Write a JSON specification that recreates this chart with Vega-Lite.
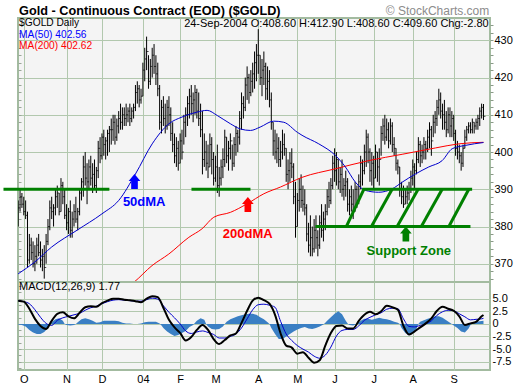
{
"$schema": "https://vega.github.io/schema/vega-lite/v6.json",
"background": "white",
"padding": {"left": 0, "top": 3, "right": 0, "bottom": 0},
"spacing": 0,
"bounds": "flush",
"config": {
  "font": "Liberation Sans",
  "view": {"fill": "#f4f4f4", "stroke": "#a3bba0", "strokeWidth": 2},
  "axis": {"gridColor": "#b2c8ae", "gridWidth": 1, "labelFont": "Liberation Sans", "labelFontSize": 11, "labelColor": "#000000", "domain": false, "tickColor": "#8a9a88", "title": null, "labelOverlap": false}
},
"datasets": {
  "bars": [
{"t":0,"h":387,"l":380,"c":385},{"t":1,"h":390,"l":384,"c":388},{"t":2,"h":389,"l":385,"c":386},{"t":3,"h":388,"l":383,"c":384},{"t":4,"h":387,"l":382,"c":383},
{"t":5,"h":384,"l":369,"c":371},{"t":6,"h":378,"l":370,"c":375},{"t":7,"h":377,"l":371,"c":373},{"t":8,"h":376,"l":369,"c":370},{"t":9,"h":375,"l":368,"c":372},
{"t":10,"h":377,"l":370,"c":375},{"t":11,"h":378,"l":372,"c":373},{"t":12,"h":376,"l":369,"c":371},{"t":13,"h":374,"l":368,"c":372},{"t":14,"h":375,"l":366,"c":369},
{"t":15,"h":378,"l":370,"c":376},{"t":16,"h":382,"l":375,"c":380},{"t":17,"h":387,"l":379,"c":385},{"t":18,"h":388,"l":382,"c":384},{"t":19,"h":386,"l":380,"c":385},
{"t":20,"h":390,"l":383,"c":388},{"t":21,"h":391,"l":385,"c":389},{"t":22,"h":389,"l":383,"c":384},{"t":23,"h":393,"l":384,"c":391},{"t":24,"h":392,"l":386,"c":388},
{"t":25,"h":390,"l":382,"c":383},{"t":26,"h":386,"l":379,"c":381},{"t":27,"h":385,"l":378,"c":384},{"t":28,"h":387,"l":377,"c":379},{"t":29,"h":384,"l":377,"c":382},
{"t":30,"h":386,"l":380,"c":384},{"t":31,"h":388,"l":381,"c":382},{"t":32,"h":385,"l":379,"c":384},{"t":33,"h":390,"l":383,"c":389},{"t":34,"h":393,"l":387,"c":392},
{"t":35,"h":399,"l":388,"c":396},{"t":36,"h":400,"l":391,"c":393},{"t":37,"h":397,"l":386,"c":392},{"t":38,"h":398,"l":390,"c":396},{"t":39,"h":399,"l":391,"c":393},
{"t":40,"h":397,"l":389,"c":394},{"t":41,"h":398,"l":390,"c":391},{"t":42,"h":396,"l":389,"c":395},{"t":43,"h":403,"l":393,"c":401},{"t":44,"h":404,"l":397,"c":399},
{"t":45,"h":405,"l":398,"c":404},{"t":46,"h":406,"l":399,"c":402},{"t":47,"h":404,"l":398,"c":403},{"t":48,"h":406,"l":399,"c":405},{"t":49,"h":407,"l":400,"c":406},
{"t":50,"h":409,"l":402,"c":406},{"t":51,"h":410,"l":403,"c":408},{"t":52,"h":410,"l":402,"c":404},{"t":53,"h":409,"l":403,"c":407},{"t":54,"h":411,"l":405,"c":409},
{"t":55,"h":413,"l":406,"c":408},{"t":56,"h":412,"l":406,"c":410},{"t":57,"h":412,"l":407,"c":409},{"t":58,"h":413,"l":407,"c":410},{"t":59,"h":412,"l":408,"c":411},
{"t":60,"h":413,"l":407,"c":409},{"t":61,"h":412,"l":408,"c":411},{"t":62,"h":413,"l":409,"c":412},{"t":63,"h":418,"l":411,"c":416},{"t":64,"h":419,"l":413,"c":417},
{"t":65,"h":418,"l":412,"c":414},{"t":66,"h":417,"l":413,"c":415},{"t":67,"h":424,"l":415,"c":422},{"t":68,"h":428,"l":419,"c":425},{"t":69,"h":431,"l":422,"c":427},
{"t":70,"h":426,"l":417,"c":419},{"t":71,"h":425,"l":418,"c":423},{"t":72,"h":428,"l":420,"c":426},{"t":73,"h":429,"l":421,"c":423},{"t":74,"h":426,"l":418,"c":421},
{"t":75,"h":424,"l":415,"c":417},{"t":76,"h":418,"l":406,"c":408},{"t":77,"h":414,"l":405,"c":412},{"t":78,"h":415,"l":407,"c":409},{"t":79,"h":413,"l":405,"c":407},
{"t":80,"h":414,"l":406,"c":412},{"t":81,"h":415,"l":407,"c":410},{"t":82,"h":412,"l":403,"c":405},{"t":83,"h":408,"l":400,"c":402},{"t":84,"h":405,"l":397,"c":399},
{"t":85,"h":404,"l":396,"c":401},{"t":86,"h":403,"l":395,"c":397},{"t":87,"h":405,"l":397,"c":403},{"t":88,"h":406,"l":398,"c":400},{"t":89,"h":410,"l":402,"c":408},
{"t":90,"h":412,"l":404,"c":410},{"t":91,"h":415,"l":407,"c":413},{"t":92,"h":417,"l":409,"c":415},{"t":93,"h":418,"l":410,"c":413},{"t":94,"h":416,"l":408,"c":414},
{"t":95,"h":418,"l":410,"c":416},{"t":96,"h":417,"l":409,"c":411},{"t":97,"h":416,"l":407,"c":409},{"t":98,"h":413,"l":404,"c":406},{"t":99,"h":411,"l":394,"c":398},
{"t":100,"h":405,"l":396,"c":400},{"t":101,"h":403,"l":395,"c":397},{"t":102,"h":402,"l":393,"c":396},{"t":103,"h":405,"l":396,"c":402},{"t":104,"h":404,"l":394,"c":398},
{"t":105,"h":400,"l":391,"c":393},{"t":106,"h":399,"l":392,"c":396},{"t":107,"h":402,"l":389,"c":391},{"t":108,"h":396,"l":388,"c":393},{"t":109,"h":398,"l":391,"c":396},
{"t":110,"h":401,"l":393,"c":398},{"t":111,"h":406,"l":396,"c":404},{"t":112,"h":404,"l":397,"c":399},{"t":113,"h":403,"l":395,"c":401},{"t":114,"h":405,"l":398,"c":403},
{"t":115,"h":402,"l":395,"c":397},{"t":116,"h":404,"l":396,"c":402},{"t":117,"h":407,"l":399,"c":405},{"t":118,"h":406,"l":400,"c":404},{"t":119,"h":411,"l":402,"c":409},
{"t":120,"h":416,"l":406,"c":413},{"t":121,"h":415,"l":409,"c":412},{"t":122,"h":420,"l":411,"c":418},{"t":123,"h":423,"l":414,"c":420},{"t":124,"h":421,"l":413,"c":416},
{"t":125,"h":422,"l":415,"c":419},{"t":126,"h":424,"l":416,"c":421},{"t":127,"h":427,"l":417,"c":424},{"t":128,"h":429,"l":419,"c":426},{"t":129,"h":433,"l":421,"c":426},
{"t":130,"h":426,"l":418,"c":420},{"t":131,"h":425,"l":415,"c":422},{"t":132,"h":427,"l":418,"c":423},{"t":133,"h":424,"l":414,"c":417},{"t":134,"h":423,"l":414,"c":419},
{"t":135,"h":422,"l":412,"c":414},{"t":136,"h":416,"l":406,"c":408},{"t":137,"h":408,"l":399,"c":403},{"t":138,"h":406,"l":398,"c":400},{"t":139,"h":405,"l":397,"c":401},
{"t":140,"h":404,"l":396,"c":398},{"t":141,"h":403,"l":396,"c":400},{"t":142,"h":406,"l":398,"c":402},{"t":143,"h":405,"l":399,"c":401},{"t":144,"h":401,"l":392,"c":394},
{"t":145,"h":398,"l":390,"c":395},{"t":146,"h":400,"l":392,"c":397},{"t":147,"h":401,"l":393,"c":396},{"t":148,"h":397,"l":386,"c":388},{"t":149,"h":392,"l":377,"c":380},
{"t":150,"h":389,"l":380,"c":387},{"t":151,"h":393,"l":384,"c":390},{"t":152,"h":394,"l":385,"c":387},{"t":153,"h":391,"l":384,"c":386},{"t":154,"h":390,"l":383,"c":385},
{"t":155,"h":386,"l":376,"c":378},{"t":156,"h":381,"l":373,"c":375},{"t":157,"h":383,"l":372,"c":377},{"t":158,"h":380,"l":372,"c":374},{"t":159,"h":382,"l":373,"c":379},
{"t":160,"h":383,"l":374,"c":377},{"t":161,"h":379,"l":372,"c":375},{"t":162,"h":383,"l":374,"c":381},{"t":163,"h":386,"l":377,"c":379},{"t":164,"h":384,"l":376,"c":382},
{"t":165,"h":386,"l":379,"c":384},{"t":166,"h":390,"l":383,"c":388},{"t":167,"h":392,"l":385,"c":387},{"t":168,"h":393,"l":386,"c":391},{"t":169,"h":399,"l":390,"c":397},
{"t":170,"h":401,"l":392,"c":395},{"t":171,"h":400,"l":391,"c":398},{"t":172,"h":398,"l":390,"c":392},{"t":173,"h":396,"l":389,"c":394},{"t":174,"h":398,"l":388,"c":390},
{"t":175,"h":393,"l":387,"c":391},{"t":176,"h":395,"l":388,"c":392},{"t":177,"h":393,"l":384,"c":386},{"t":178,"h":390,"l":383,"c":388},{"t":179,"h":391,"l":384,"c":386},
{"t":180,"h":390,"l":382,"c":384},{"t":181,"h":392,"l":384,"c":390},{"t":182,"h":391,"l":385,"c":387},{"t":183,"h":394,"l":386,"c":392},{"t":184,"h":399,"l":390,"c":397},
{"t":185,"h":398,"l":391,"c":395},{"t":186,"h":402,"l":394,"c":400},{"t":187,"h":406,"l":396,"c":404},{"t":188,"h":405,"l":397,"c":400},{"t":189,"h":401,"l":392,"c":395},
{"t":190,"h":400,"l":391,"c":397},{"t":191,"h":399,"l":390,"c":393},{"t":192,"h":402,"l":393,"c":400},{"t":193,"h":400,"l":392,"c":396},{"t":194,"h":401,"l":391,"c":398},
{"t":195,"h":407,"l":399,"c":405},{"t":196,"h":409,"l":403,"c":407},{"t":197,"h":410,"l":402,"c":404},{"t":198,"h":409,"l":403,"c":406},{"t":199,"h":408,"l":401,"c":403},
{"t":200,"h":409,"l":402,"c":407},{"t":201,"h":408,"l":400,"c":402},{"t":202,"h":404,"l":399,"c":401},{"t":203,"h":401,"l":395,"c":397},{"t":204,"h":398,"l":394,"c":396},
{"t":205,"h":396,"l":388,"c":390},{"t":206,"h":392,"l":386,"c":388},{"t":207,"h":391,"l":385,"c":386},{"t":208,"h":390,"l":386,"c":388},{"t":209,"h":391,"l":386,"c":389},
{"t":210,"h":392,"l":387,"c":390},{"t":211,"h":395,"l":389,"c":393},{"t":212,"h":398,"l":391,"c":396},{"t":213,"h":397,"l":390,"c":395},{"t":214,"h":400,"l":394,"c":398},
{"t":215,"h":404,"l":397,"c":402},{"t":216,"h":403,"l":396,"c":399},{"t":217,"h":402,"l":397,"c":400},{"t":218,"h":404,"l":398,"c":402},{"t":219,"h":403,"l":398,"c":401},
{"t":220,"h":406,"l":400,"c":404},{"t":221,"h":408,"l":401,"c":406},{"t":222,"h":407,"l":399,"c":403},{"t":223,"h":410,"l":404,"c":408},{"t":224,"h":411,"l":405,"c":409},
{"t":225,"h":414,"l":407,"c":412},{"t":226,"h":417,"l":410,"c":414},{"t":227,"h":416,"l":409,"c":411},{"t":228,"h":413,"l":406,"c":410},{"t":229,"h":414,"l":406,"c":408},
{"t":230,"h":411,"l":404,"c":406},{"t":231,"h":412,"l":405,"c":410},{"t":232,"h":412,"l":404,"c":407},{"t":233,"h":411,"l":404,"c":409},{"t":234,"h":410,"l":403,"c":405},
{"t":235,"h":406,"l":399,"c":401},{"t":236,"h":403,"l":398,"c":400},{"t":237,"h":402,"l":397,"c":399},{"t":238,"h":400,"l":395,"c":397},{"t":239,"h":402,"l":396,"c":401},
{"t":240,"h":406,"l":401,"c":404},{"t":241,"h":407,"l":403,"c":406},{"t":242,"h":408,"l":405,"c":407},{"t":243,"h":408,"l":405,"c":406},{"t":244,"h":409,"l":405,"c":408},
{"t":245,"h":408,"l":405,"c":407},{"t":246,"h":409,"l":406,"c":408},{"t":247,"h":410,"l":406,"c":409},{"t":248,"h":412,"l":407,"c":411},{"t":249,"h":413,"l":409,"c":412},
{"t":250,"h":412.9,"l":408.6,"c":409.6}
  ],
  "ma50": [
{"t":0,"v":367.3},{"t":9,"v":370.5},{"t":18,"v":374.5},{"t":31.6,"v":379},{"t":45,"v":383.4},{"t":54,"v":387},{"t":63,"v":394.1},{"t":72,"v":402.2},{"t":81,"v":407.6},{"t":88,"v":409.4},{"t":96,"v":410.7},{"t":101.5,"v":411.2},{"t":107,"v":409.8},{"t":114,"v":407.6},{"t":119.4,"v":406.2},{"t":124.8,"v":405.8},{"t":130,"v":406.7},{"t":137.3,"v":408.3},{"t":142.7,"v":408.0},{"t":150,"v":405.3},{"t":152.5,"v":404.5},{"t":161.5,"v":402.2},{"t":170.4,"v":399.1},{"t":175.8,"v":396},{"t":181.2,"v":391.9},{"t":186.5,"v":389.7},{"t":193.7,"v":389.2},{"t":200.9,"v":390.1},{"t":206.3,"v":391.9},{"t":213.4,"v":394.1},{"t":220.6,"v":396},{"t":227.8,"v":397.7},{"t":233.2,"v":400.9},{"t":240.4,"v":401.8},{"t":250,"v":402.56}
  ],
  "ma200": [
{"t":58,"v":363.5},{"t":62.1,"v":365},{"t":71.9,"v":369.5},{"t":80.9,"v":372.6},{"t":91.7,"v":377.1},{"t":98.8,"v":379.4},{"t":105.1,"v":382.5},{"t":114,"v":383.8},{"t":123,"v":386.1},{"t":132,"v":388.8},{"t":140.9,"v":390.6},{"t":152.5,"v":393.2},{"t":170.4,"v":395.5},{"t":188.3,"v":397.7},{"t":206.3,"v":399.4},{"t":224.2,"v":401.1},{"t":236.7,"v":402.2},{"t":250,"v":402.62}
  ],
  "zones": [
{"x1":-7.9,"x2":49.0,"y1":390,"y2":390},{"x1":93.1,"x2":124.8,"y1":390,"y2":390},{"x1":159.7,"x2":243.0,"y1":380,"y2":380},{"x1":184.8,"x2":243.9,"y1":390,"y2":390},
{"x1":176.3,"x2":185.7,"y1":380,"y2":390},{"x1":189.8,"x2":200.9,"y1":380,"y2":390},{"x1":203.6,"x2":214.9,"y1":380,"y2":390},{"x1":216.6,"x2":227.8,"y1":380,"y2":390},{"x1":231.4,"x2":242.1,"y1":380,"y2":390}
  ],
  "arrows": [
{"t":62.5,"p":392.1,"k":"50dMA"},{"t":123.4,"p":385.9,"k":"200dMA"},{"t":208.3,"p":378.0,"k":"Support Zone"}
  ],
  "labels": [
{"t":67.7,"p":385.4,"k":"50dMA"},{"t":123.3,"p":376.9,"k":"200dMA"},{"t":209.9,"p":372.4,"k":"Support Zone"}
  ],
  "macd": [
{"t":0,"m":4.6,"s":4.6},{"t":3,"m":4.4,"s":4.4},{"t":6,"m":3.0,"s":4.0},{"t":9,"m":1.0,"s":2.8},{"t":12,"m":-0.4,"s":1.3},{"t":15,"m":-1.0,"s":0.1},{"t":18,"m":0.6,"s":-0.3},{"t":21,"m":2.0,"s":0.7},{"t":24,"m":2.3,"s":1.2},{"t":27,"m":1.5,"s":1.5},
{"t":30,"m":1.1,"s":1.8},{"t":33,"m":2.2,"s":2.1},{"t":36,"m":3.3,"s":2.7},{"t":39,"m":3.5,"s":3.2},{"t":42,"m":3.4,"s":3.5},{"t":45,"m":4.1,"s":4.0},{"t":48,"m":4.6,"s":4.4},{"t":51,"m":5.0,"s":4.7},{"t":54,"m":5.0,"s":4.8},{"t":57,"m":4.8,"s":4.7},
{"t":60,"m":4.7,"s":4.6},{"t":63,"m":4.5,"s":4.5},{"t":66,"m":4.3,"s":4.5},{"t":69,"m":5.0,"s":4.8},{"t":72,"m":5.5,"s":5.1},{"t":75,"m":5.3,"s":4.9},{"t":78,"m":3.2,"s":3.6},{"t":81,"m":0.8,"s":2.3},{"t":84,"m":-0.7,"s":1.2},{"t":87,"m":-1.8,"s":0.0},
{"t":90,"m":-3.3,"s":-1.4},{"t":93,"m":-2.6,"s":-1.9},{"t":96,"m":-1.2,"s":-1.6},{"t":99,"m":-0.2,"s":-1.4},{"t":102,"m":-1.2,"s":-1.7},{"t":105,"m":-3.0,"s":-2.1},{"t":108,"m":-4.0,"s":-2.8},{"t":111,"m":-3.2,"s":-2.8},{"t":114,"m":-2.3,"s":-2.5},{"t":117,"m":-1.9,"s":-2.0},
{"t":120,"m":0.2,"s":-0.8},{"t":123,"m":2.6,"s":1.0},{"t":126,"m":4.6,"s":2.8},{"t":129,"m":5.2,"s":3.8},{"t":132,"m":4.7,"s":3.9},{"t":135,"m":4.0,"s":3.7},{"t":138,"m":1.8,"s":3.3},{"t":141,"m":-1.9,"s":0.5},{"t":144,"m":-4.3,"s":-2.0},{"t":147,"m":-4.7,"s":-3.3},
{"t":150,"m":-5.9,"s":-4.3},{"t":153,"m":-5.6,"s":-5.0},{"t":156,"m":-6.7,"s":-5.6},{"t":159,"m":-7.7,"s":-6.4},{"t":162,"m":-7.2,"s":-6.8},{"t":165,"m":-4.3,"s":-6.2},{"t":168,"m":-1.8,"s":-4.6},{"t":171,"m":-0.4,"s":-2.4},{"t":174,"m":-0.3,"s":-1.3},{"t":177,"m":-0.9,"s":-1.1},
{"t":180,"m":-0.9,"s":-1.1},{"t":183,"m":0.6,"s":-0.4},{"t":186,"m":1.8,"s":0.7},{"t":189,"m":2.4,"s":1.3},{"t":192,"m":1.9,"s":1.8},{"t":195,"m":2.5,"s":2.2},{"t":198,"m":3.6,"s":2.9},{"t":201,"m":3.3,"s":3.1},{"t":204,"m":2.8,"s":3.0},{"t":207,"m":-0.4,"s":1.0},
{"t":210,"m":-2.1,"s":-0.5},{"t":213,"m":-1.5,"s":-0.6},{"t":216,"m":-0.7,"s":-0.3},{"t":219,"m":0.1,"s":0.0},{"t":222,"m":1.1,"s":0.6},{"t":225,"m":2.6,"s":1.7},{"t":228,"m":3.4,"s":2.4},{"t":231,"m":3.0,"s":2.7},{"t":234,"m":2.6,"s":2.6},{"t":237,"m":1.5,"s":2.0},
{"t":240,"m":-0.2,"s":1.4},{"t":243,"m":0.1,"s":0.8},{"t":246,"m":0.4,"s":0.9},{"t":249,"m":1.5,"s":1.0},{"t":250,"m":1.77,"s":1.1}
  ],
  "hist": [
{"t":0,"h":-0.1},{"t":2,"h":-0.2},{"t":4,"h":-0.5},{"t":6,"h":-1.2},{"t":8,"h":-1.7},{"t":10,"h":-2.0},{"t":12,"h":-2.0},{"t":14,"h":-1.6},{"t":16,"h":-0.8},{"t":17,"h":0},{"t":18,"h":0.3},{"t":20,"h":0.9},{"t":22,"h":1.1},{"t":24,"h":0.6},{"t":25,"h":0},
{"t":26,"h":-0.2},{"t":28,"h":-0.3},{"t":30,"h":-0.2},{"t":31,"h":0},{"t":32,"h":0.3},{"t":34,"h":0.9},{"t":36,"h":1.1},{"t":38,"h":0.9},{"t":40,"h":0.6},{"t":42,"h":0.2},{"t":44,"h":0.3},{"t":46,"h":0.6},{"t":48,"h":0.6},{"t":50,"h":0.6},{"t":52,"h":0.6},
{"t":54,"h":0.5},{"t":56,"h":0.2},{"t":58,"h":0.1},{"t":60,"h":0.1},{"t":62,"h":0.0},{"t":64,"h":0.0},{"t":66,"h":0.1},{"t":68,"h":0.3},{"t":70,"h":0.4},{"t":72,"h":0.4},{"t":74,"h":0.4},{"t":76,"h":0.1},{"t":77,"h":-0.3},{"t":78,"h":-0.8},{"t":80,"h":-1.5},
{"t":82,"h":-2.0},{"t":84,"h":-2.4},{"t":86,"h":-2.2},{"t":88,"h":-1.8},{"t":90,"h":-1.4},{"t":92,"h":-0.6},{"t":94,"h":-0.2},{"t":95,"h":0.2},{"t":96,"h":0.6},{"t":98,"h":1.1},{"t":100,"h":0.8},{"t":101,"h":0.0},{"t":102,"h":-0.5},{"t":104,"h":-1.0},{"t":106,"h":-1.1},
{"t":108,"h":-1.0},{"t":110,"h":-0.5},{"t":111,"h":0.0},{"t":112,"h":0.4},{"t":114,"h":0.9},{"t":116,"h":1.2},{"t":118,"h":1.5},{"t":120,"h":1.7},{"t":122,"h":1.9},{"t":124,"h":2.0},{"t":126,"h":2.0},{"t":128,"h":1.8},{"t":130,"h":1.3},{"t":132,"h":0.9},{"t":134,"h":0.3},
{"t":135,"h":0},{"t":136,"h":-0.8},{"t":138,"h":-2.0},{"t":140,"h":-3.0},{"t":142,"h":-3.0},{"t":144,"h":-2.5},{"t":146,"h":-2.0},{"t":148,"h":-1.5},{"t":150,"h":-1.1},{"t":152,"h":-0.8},{"t":154,"h":-0.6},{"t":156,"h":-0.9},{"t":158,"h":-1.0},{"t":160,"h":-0.8},{"t":162,"h":-0.5},
{"t":164,"h":-0.1},{"t":165,"h":0.2},{"t":166,"h":0.6},{"t":168,"h":1.3},{"t":170,"h":2.0},{"t":172,"h":2.5},{"t":174,"h":1.9},{"t":176,"h":0.6},{"t":177,"h":0.1},{"t":178,"h":-0.2},{"t":180,"h":-0.3},{"t":182,"h":0.0},{"t":184,"h":0.6},{"t":186,"h":1.0},{"t":188,"h":1.0},
{"t":190,"h":0.8},{"t":192,"h":1.0},{"t":194,"h":1.2},{"t":196,"h":1.0},{"t":198,"h":0.9},{"t":200,"h":0.7},{"t":202,"h":0.4},{"t":204,"h":0.2},{"t":205,"h":0},{"t":206,"h":-0.8},{"t":208,"h":-1.8},{"t":210,"h":-2.3},{"t":212,"h":-1.7},{"t":214,"h":-1.0},{"t":215,"h":0},
{"t":216,"h":0.4},{"t":218,"h":0.7},{"t":220,"h":1.0},{"t":222,"h":1.2},{"t":224,"h":1.5},{"t":226,"h":1.5},{"t":228,"h":1.2},{"t":230,"h":0.7},{"t":232,"h":0.2},{"t":233,"h":0},{"t":234,"h":-0.3},{"t":236,"h":-0.8},{"t":238,"h":-1.5},{"t":240,"h":-1.7},{"t":242,"h":-0.9},
{"t":243,"h":-0.2},{"t":244,"h":0.2},{"t":246,"h":0.4},{"t":248,"h":0.5},{"t":250,"h":0.6}
  ]
},
"vconcat": [
{
  "width": 472, "height": 264,
  "resolve": {"axis": {"y": "independent"}},
  "layer": [
    {"data": {"name": "bars"}, "mark": {"type": "rule", "color": "#000000", "strokeWidth": 1, "clip": true},
     "encoding": {
       "x": {"field": "t", "type": "quantitative", "scale": {"domain": [-0.1, 253.5], "nice": false, "zero": false},
             "axis": {"values": [3,26,45,67,87,106,129,150,170,191,212,234], "labels": false, "ticks": false, "grid": true, "domain": false, "minExtent": 0, "maxExtent": 0}},
       "y": {"field": "l", "type": "quantitative", "scale": {"domain": [365.1, 436], "nice": false, "zero": false},
             "axis": {"orient": "right", "values": [366,368,370,372,374,376,378,380,382,384,386,388,390,392,394,396,398,400,402,404,406,408,410,412,414,416,418,420,422,424,426,428,430,432,434],
                      "labelExpr": "datum.value % 10 === 0 ? datum.label : ''",
                      "labelOverlap": false,
                      "gridOpacity": {"condition": {"test": "datum.value % 10 === 0", "value": 1}, "value": 0},
                      "tickSize": 3, "labelPadding": 1, "grid": true}},
       "y2": {"field": "h"}
     }},
    {"data": {"name": "bars"}, "mark": {"type": "tick", "orient": "horizontal", "color": "#000000", "size": 2, "thickness": 1, "xOffset": 1, "clip": true},
     "encoding": {"x": {"field": "t", "type": "quantitative"},
       "y": {"field": "c", "type": "quantitative",
             "axis": {"orient": "left", "values": [366,368,370,372,374,376,378,380,382,384,386,388,390,392,394,396,398,400,402,404,406,408,410,412,414,416,418,420,422,424,426,428,430,432,434],
                      "labels": false, "grid": false, "domain": false, "tickSize": -3, "tickColor": "#9aa898", "minExtent": 0, "maxExtent": 0}}}},
    {"data": {"name": "ma200"}, "mark": {"type": "line", "color": "#ff0000", "strokeWidth": 1, "interpolate": "monotone", "clip": true},
     "encoding": {"x": {"field": "t", "type": "quantitative"}, "y": {"field": "v", "type": "quantitative", "axis": null}}},
    {"data": {"name": "ma50"}, "mark": {"type": "line", "color": "#0000cc", "strokeWidth": 1, "interpolate": "monotone", "clip": true},
     "encoding": {"x": {"field": "t", "type": "quantitative"}, "y": {"field": "v", "type": "quantitative", "axis": null}}},
    {"data": {"name": "zones"}, "mark": {"type": "rule", "color": "#008000", "strokeWidth": 3, "clip": false},
     "encoding": {"x": {"field": "x1", "type": "quantitative"}, "x2": {"field": "x2"}, "y": {"field": "y1", "type": "quantitative", "axis": null}, "y2": {"field": "y2"}}},
    {"data": {"name": "arrows"}, "mark": {"type": "point", "filled": true, "opacity": 1, "size": 137, "strokeWidth": 0,
       "shape": "M0,-1.28L1,-0.08L0.57,-0.08L0.57,1.28L-0.57,1.28L-0.57,-0.08L-1,-0.08Z"},
     "encoding": {"x": {"field": "t", "type": "quantitative"}, "y": {"field": "p", "type": "quantitative", "axis": null},
       "color": {"field": "k", "type": "nominal", "scale": {"domain": ["50dMA", "200dMA", "Support Zone"], "range": ["#0000ff", "#ff0000", "#008000"]}, "legend": null}}},
    {"data": {"name": "labels"}, "mark": {"type": "text", "font": "Liberation Sans", "fontSize": 13, "fontWeight": "bold", "align": "center", "baseline": "alphabetic"},
     "encoding": {"x": {"field": "t", "type": "quantitative"}, "y": {"field": "p", "type": "quantitative", "axis": null}, "text": {"field": "k"},
       "color": {"field": "k", "type": "nominal", "legend": null}}},
    {"data": {"values": [{}]}, "mark": {"type": "text", "text": "Gold - Continuous Contract (EOD) ($GOLD)", "font": "Liberation Sans", "fontSize": 12.7, "fontWeight": "bold", "align": "left", "baseline": "alphabetic", "color": "#000000"},
     "encoding": {"x": {"datum": 0.5}, "y": {"datum": 436.8, "axis": null}}},
    {"data": {"values": [{}]}, "mark": {"type": "text", "text": "© StockCharts.com", "font": "Liberation Sans", "fontSize": 12, "align": "right", "baseline": "alphabetic", "color": "#8c8c8c"},
     "encoding": {"x": {"datum": 253.1}, "y": {"datum": 436.9, "axis": null}}},
    {"data": {"values": [{}]}, "mark": {"type": "text", "text": "$GOLD Daily", "font": "Liberation Sans", "fontSize": 10.2, "align": "left", "baseline": "alphabetic", "color": "#000000"},
     "encoding": {"x": {"datum": 0.5}, "y": {"datum": 433.8, "axis": null}}},
    {"data": {"values": [{}]}, "mark": {"type": "text", "text": "MA(50) 402.56", "font": "Liberation Sans", "fontSize": 10.2, "align": "left", "baseline": "alphabetic", "color": "#0000ff"},
     "encoding": {"x": {"datum": 0.5}, "y": {"datum": 430.7, "axis": null}}},
    {"data": {"values": [{}]}, "mark": {"type": "text", "text": "MA(200) 402.62", "font": "Liberation Sans", "fontSize": 10.2, "align": "left", "baseline": "alphabetic", "color": "#ff0000"},
     "encoding": {"x": {"datum": 0.5}, "y": {"datum": 427.6, "axis": null}}},
    {"data": {"values": [{}]}, "mark": {"type": "text", "text": "24-Sep-2004 O:408.60 H:412.90 L:408.60 C:409.60 Chg:-2.80", "font": "Liberation Sans", "fontSize": 11, "align": "right", "baseline": "alphabetic", "color": "#000000"},
     "encoding": {"x": {"datum": 252.8}, "y": {"datum": 433.6, "axis": null}}}
  ]
},
{
  "width": 472, "height": 88,
  "resolve": {"axis": {"y": "independent"}},
  "layer": [
    {"data": {"name": "hist"}, "mark": {"type": "area", "color": "#3a7fc4", "opacity": 1, "clip": true},
     "encoding": {
       "x": {"field": "t", "type": "quantitative", "scale": {"domain": [-0.1, 253.5], "nice": false, "zero": false},
             "axis": {"values": [3,26,45,67,87,106,129,150,170,191,212,234],
                      "labelExpr": "['O','N','D','04','F','M','A','M','J','J','A','S'][indexof([3,26,45,67,87,106,129,150,170,191,212,234], datum.value)]",
                      "labelOverlap": false,
                      "ticks": false, "labelPadding": 3, "labelFlush": false, "grid": true, "domain": false}},
       "y": {"field": "h", "type": "quantitative", "scale": {"domain": [-9.14, 8.3], "nice": false, "zero": false},
             "axis": {"orient": "right", "values": [5, 2.5, 0, -2.5, -5, -7.5],
                      "labelExpr": "datum.value === 0 ? '0' : replace(format(datum.value, '.1f'), '\u2212', '-')",
                      "labelOverlap": false,
                      "ticks": false, "labelPadding": 2, "grid": true}},
       "y2": {"datum": 0}
     }},
    {"data": {"name": "macd"}, "mark": {"type": "line", "color": "#0000cc", "strokeWidth": 1, "interpolate": "monotone", "clip": true},
     "encoding": {"x": {"field": "t", "type": "quantitative"},
       "y": {"field": "s", "type": "quantitative",
             "axis": {"orient": "left", "values": [-8.75,-7.5,-6.25,-5,-3.75,-2.5,-1.25,0,1.25,2.5,3.75,5,6.25,7.5],
                      "labels": false, "grid": false, "domain": false, "tickSize": -3, "tickColor": "#9aa898", "minExtent": 0, "maxExtent": 0}}}},
    {"data": {"name": "macd"}, "mark": {"type": "line", "color": "#000000", "strokeWidth": 2, "interpolate": "monotone", "clip": true},
     "encoding": {"x": {"field": "t", "type": "quantitative"}, "y": {"field": "m", "type": "quantitative", "axis": null}}},
    {"data": {"values": [{}]}, "mark": {"type": "text", "text": "MACD(12,26,9)  1.77", "font": "Liberation Sans", "fontSize": 11, "align": "left", "baseline": "alphabetic", "color": "#000000"},
     "encoding": {"x": {"datum": 0.5}, "y": {"datum": 6.7, "axis": null}}}
  ]
}
]
}
